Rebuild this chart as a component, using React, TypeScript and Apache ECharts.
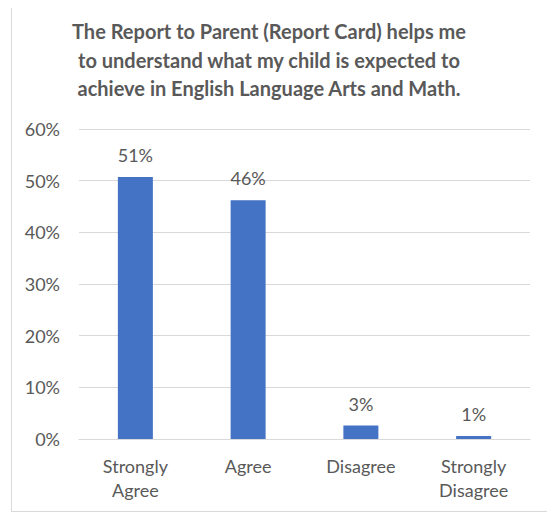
import React, { useEffect, useRef } from "react";
import * as echarts from "echarts";

const categories = ["Strongly\nAgree", "Agree", "Disagree", "Strongly\nDisagree"];
const values = [0.507, 0.462, 0.026, 0.006];
const titleText =
  "The Report to Parent (Report Card) helps me\nto understand what my child is expected to\nachieve in English Language Arts and Math.";

const FONT = "Lato, 'Open Sans', sans-serif";
const GREY = "#595959";

export default function App() {
  const ref = useRef<HTMLDivElement>(null);
  useEffect(() => {
    const chart = echarts.init(ref.current!, undefined, { renderer: "svg" });
    chart.setOption({
      animation: false,
      title: {
        text: titleText,
        left: 252,
        top: 9,
        textAlign: "center",
        textStyle: {
          fontFamily: FONT,
          fontWeight: "bold",
          fontSize: 20,
          lineHeight: 28.5,
          color: GREY,
        },
      },
      grid: { left: 67, right: 18, top: 126, bottom: 72 },
      xAxis: {
        type: "category",
        data: categories,
        axisTick: { show: false },
        axisLine: { lineStyle: { color: "#d9d9d9" } },
        axisLabel: {
          fontFamily: FONT,
          fontSize: 18,
          color: GREY,
          lineHeight: 24,
          margin: 15,
        },
      },
      yAxis: {
        type: "value",
        min: 0,
        max: 0.6,
        interval: 0.1,
        axisLine: { show: false },
        axisTick: { show: false },
        splitLine: { lineStyle: { color: "#d9d9d9" } },
        axisLabel: {
          fontFamily: FONT,
          fontSize: 18,
          color: GREY,
          margin: 19,
          formatter: (v: number) => Math.round(v * 100) + "%",
        },
      },
      series: [
        {
          type: "bar",
          data: values,
          barWidth: 35,
          itemStyle: { color: "#4472C4" },
          label: {
            show: true,
            position: "top",
            distance: 13,
            fontFamily: FONT,
            fontSize: 18,
            color: GREY,
            formatter: (p: any) => Math.round(p.value * 100) + "%",
          },
        },
      ],
    });
    return () => chart.dispose();
  }, []);
  return (
    <div
      style={{
        width: 538,
        height: 510,
        border: "1px solid #d9d9d9",
        boxSizing: "border-box",
        marginLeft: 3,
        marginTop: -6,
        background: "#fff",
      }}
    >
      <div ref={ref} style={{ width: "100%", height: "100%" }} />
    </div>
  );
}
